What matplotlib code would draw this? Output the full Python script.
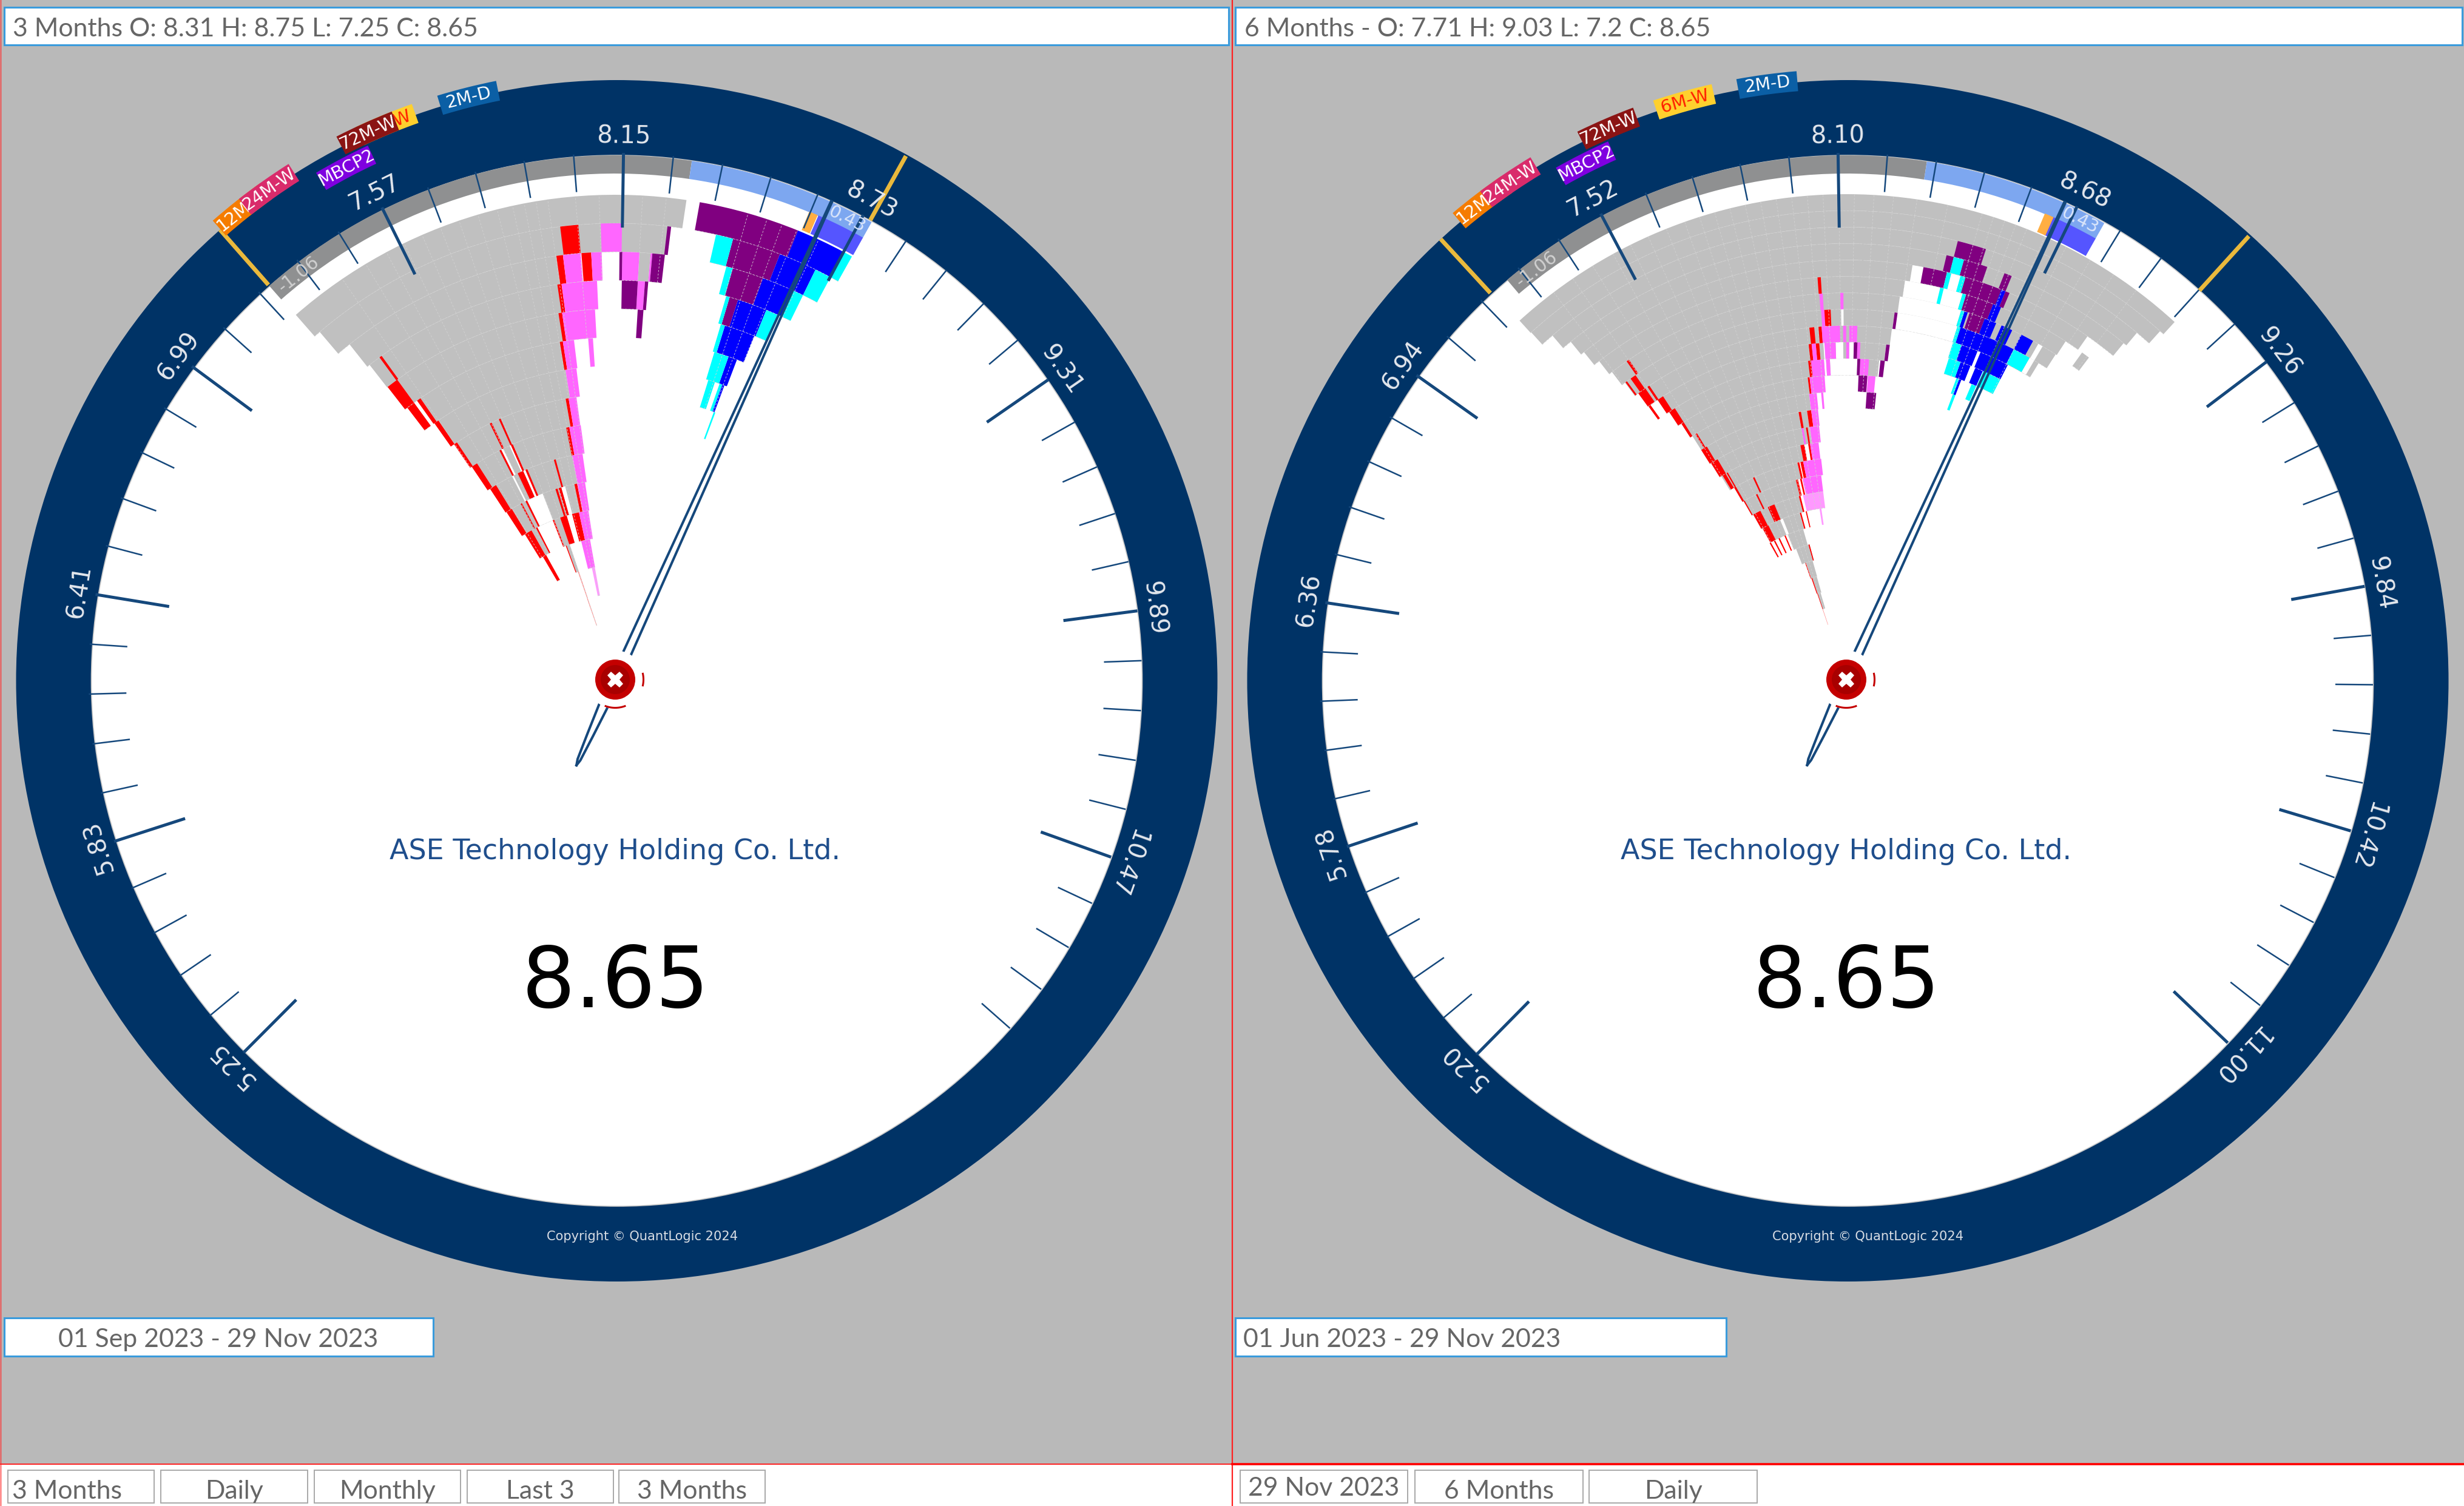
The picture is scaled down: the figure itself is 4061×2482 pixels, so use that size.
import numpy as np
import matplotlib
matplotlib.use("Agg")
from matplotlib import pyplot as plt
from matplotlib.patches import Rectangle, Circle

W, H = 4061, 2482
NAVY = "#003366"
TICK = "#15487c"
TEXT_GREY = "#666666"

# values, fan cells are (row, low price, high price)
L_LABELS = ["5.25", "5.83", "6.41", "6.99", "7.57", "8.15", "8.73", "9.31", "9.89", "10.47"]
R_LABELS = ["5.20", "5.78", "6.36", "6.94", "7.52", "8.10", "8.68", "9.26", "9.84", "10.42", "11.00"]
CLOSE = 8.65
L_LOW, L_OPEN, L_HIGH = 7.25, 8.31, 8.75
R_LOW, R_HIGH = 7.20, 9.03
BAND_LOW, BAND_OPEN, BAND_HIGH = 7.25, 8.31, 8.755
ORANGE_CELL = {"left": (8.611, 8.633), "right": (8.617, 8.640)}

TAG_NAMES = ["12M-W", "24M-W", "6M-W", "72M-W", "MBCP2", "2M-D"]
L_TAG_PRICES = [7.312, 7.38, 7.655, 7.612, 7.54, 7.83]
R_TAG_PRICES = [7.315, 7.386, 7.783, 7.617, 7.543, 7.957]

L_GRAY = [(0, 7.252, 8.311), (1, 7.270, 8.273), (2, 7.312, 7.962), (2, 8.200, 8.232), (3, 7.321, 7.955),
          (4, 7.363, 7.945), (5, 7.391, 7.936), (6, 7.399, 7.936), (7, 7.412, 7.917), (8, 7.436, 7.911),
          (9, 7.459, 7.898), (10, 7.465, 7.879), (11, 7.506, 7.542), (11, 7.685, 7.730), (12, 7.706, 7.734)]
L_WHITE = [(8, 7.568, 7.578), (8, 7.612, 7.619), (9, 7.557, 7.566), (9, 7.623, 7.636),
           (10, 7.572, 7.676), (10, 7.796, 7.821)]
L_RED = [(1, 7.983, 8.032), (2, 7.962, 7.981), (2, 8.034, 8.062), (3, 7.953, 7.966), (3, 7.359, 7.367),
         (4, 7.943, 7.955), (4, 7.323, 7.363), (5, 7.333, 7.363), (5, 7.376, 7.391), (5, 7.932, 7.943),
         (6, 7.380, 7.399), (7, 7.397, 7.412), (7, 7.574, 7.583), (7, 7.617, 7.625), (7, 7.917, 7.930),
         (8, 7.406, 7.436), (8, 7.559, 7.568), (8, 7.619, 7.629), (8, 7.896, 7.911),
         (9, 7.421, 7.459), (9, 7.591, 7.623), (9, 7.636, 7.647), (9, 7.798, 7.808),
         (10, 7.427, 7.465), (10, 7.527, 7.536), (10, 7.561, 7.572), (10, 7.759, 7.772), (10, 7.779, 7.796),
         (10, 7.879, 7.896), (11, 7.451, 7.506), (11, 7.542, 7.553), (11, 7.674, 7.685), (11, 7.730, 7.779),
         (11, 7.819, 7.870), (12, 7.480, 7.512), (12, 7.698, 7.706)]
L_PINK = [(1, 8.092, 8.149), (2, 7.981, 8.032), (2, 8.062, 8.092), (2, 8.151, 8.200), (2, 8.232, 8.237),
          (3, 7.966, 8.075), (3, 8.200, 8.222), (4, 7.955, 8.064), (5, 7.943, 7.983), (5, 8.034, 8.051),
          (6, 7.936, 7.979), (7, 7.930, 7.964), (8, 7.911, 7.966), (9, 7.898, 7.955), (10, 7.896, 7.945),
          (11, 7.870, 7.938), (12, 7.836, 7.913)]
L_LIGHT_PINK = [(13, 7.879, 7.911)]
L_FAINT_RED = [(13, 7.723, 7.734), (14, 7.721, 7.732)]
L_PURPLE = [(0, 8.345, 8.603), (1, 8.271, 8.281), (1, 8.450, 8.582), (2, 8.143, 8.151), (2, 8.237, 8.273),
            (2, 8.471, 8.562), (3, 8.151, 8.200), (3, 8.222, 8.232), (3, 8.486, 8.513), (4, 8.205, 8.224)]
L_BLUE = [(0, 8.603, 8.731), (1, 8.582, 8.686), (2, 8.562, 8.656), (3, 8.513, 8.605), (4, 8.498, 8.601),
          (5, 8.543, 8.575), (6, 8.556, 8.565)]
L_CYAN = [(0, 8.731, 8.754), (1, 8.403, 8.450), (1, 8.686, 8.731), (2, 8.452, 8.471), (2, 8.656, 8.686),
          (3, 8.475, 8.486), (3, 8.605, 8.645), (4, 8.484, 8.498), (5, 8.490, 8.543), (6, 8.499, 8.526),
          (6, 8.545, 8.556), (7, 8.562, 8.569)]
L_GRID = [7.40, 7.47, 7.53, 7.58, 7.63, 7.68, 7.73, 7.78, 7.83, 7.87, 7.90, 7.93, 7.96, 8.03, 8.09, 8.20,
          8.26, 8.47, 8.52, 8.56, 8.60, 8.66]

R_GRAY = [(0, 7.207, 9.037), (1, 7.209, 9.025), (2, 7.246, 8.981), (3, 7.274, 8.971), (4, 7.285, 8.876),
          (5, 7.304, 8.830), (5, 8.891, 8.917), (6, 7.315, 8.826), (7, 7.328, 8.794), (8, 7.343, 8.279),
          (9, 7.386, 8.266), (10, 7.397, 8.246), (11, 7.412, 7.962), (12, 7.423, 7.959), (13, 7.423, 7.940),
          (14, 7.429, 7.942), (15, 7.438, 7.880), (16, 7.466, 7.845), (17, 7.474, 7.813), (18, 7.485, 7.806),
          (19, 7.494, 7.783), (20, 7.645, 7.774), (21, 7.666, 7.791), (22, 7.709, 7.778), (23, 7.720, 7.774),
          (24, 7.720, 7.763)]
R_WHITE = [(4, 8.315, 8.475), (5, 8.300, 8.481), (6, 8.291, 8.492), (6, 8.761, 8.777), (7, 8.281, 8.496),
           (7, 8.759, 8.777), (7, 8.102, 8.110), (9, 8.035, 8.044), (9, 8.080, 8.108), (9, 8.130, 8.147),
           (10, 8.056, 8.162), (10, 8.033, 8.041), (19, 7.634, 7.655)]
R_RED = [(5, 8.031, 8.041), (6, 7.373, 7.382), (7, 7.330, 7.336), (7, 7.351, 7.371), (7, 8.044, 8.067),
         (8, 7.343, 7.373), (8, 7.382, 7.390), (8, 7.990, 8.007), (8, 8.022, 8.033), (9, 7.345, 7.354),
         (9, 7.386, 7.410), (9, 7.981, 7.992), (9, 8.007, 8.020), (10, 7.397, 7.423), (10, 7.972, 7.983),
         (11, 7.412, 7.423), (11, 7.962, 7.970), (12, 7.438, 7.446), (13, 7.423, 7.453), (13, 7.901, 7.912),
         (13, 7.940, 7.959), (14, 7.429, 7.466), (14, 7.923, 7.931), (15, 7.446, 7.464), (15, 7.470, 7.477),
         (15, 7.880, 7.901), (15, 7.921, 7.931), (16, 7.466, 7.477), (16, 7.584, 7.593), (16, 7.845, 7.856),
         (16, 7.862, 7.878), (17, 7.474, 7.481), (17, 7.558, 7.567), (17, 7.813, 7.826), (17, 7.839, 7.849),
         (18, 7.485, 7.537), (18, 7.591, 7.638), (18, 7.806, 7.817), (19, 7.494, 7.541), (19, 7.783, 7.793),
         (19, 7.826, 7.834), (20, 7.487, 7.498), (20, 7.524, 7.535), (20, 7.565, 7.576), (20, 7.617, 7.627),
         (21, 7.781, 7.791), (22, 7.699, 7.707), (23, 7.709, 7.720), (24, 7.716, 7.724)]
R_PINK = [(6, 8.033, 8.044), (6, 8.100, 8.110), (7, 8.035, 8.046), (8, 8.033, 8.097), (8, 8.108, 8.119),
          (8, 8.130, 8.158), (9, 7.992, 8.007), (9, 8.039, 8.080), (9, 8.119, 8.130), (9, 8.160, 8.171),
          (10, 7.983, 8.033), (10, 8.041, 8.056), (10, 8.173, 8.207), (11, 7.970, 8.031), (11, 8.207, 8.238),
          (12, 7.959, 7.992), (12, 8.011, 8.020), (13, 7.959, 7.990), (14, 7.901, 7.910), (14, 7.942, 7.987),
          (15, 7.931, 7.975), (16, 7.878, 7.979), (17, 7.854, 7.968)]
R_LIGHT_PINK = [(18, 7.834, 7.968), (19, 7.927, 7.940)]
R_FAINT_RED = [(25, 7.716, 7.724)]
R_PURPLE = [(2, 8.427, 8.507), (3, 8.406, 8.427), (3, 8.457, 8.526), (3, 8.578, 8.600), (4, 8.348, 8.419),
            (4, 8.475, 8.587), (4, 8.600, 8.613), (5, 8.492, 8.580), (6, 8.520, 8.572), (7, 8.281, 8.291),
            (9, 8.147, 8.160), (9, 8.266, 8.279), (10, 8.162, 8.173), (10, 8.251, 8.268), (11, 8.169, 8.205),
            (12, 8.207, 8.248)]
R_BLUE = [(4, 8.587, 8.600), (5, 8.580, 8.606), (6, 8.503, 8.514), (6, 8.572, 8.611), (6, 8.630, 8.667),
          (6, 8.699, 8.742), (7, 8.507, 8.699), (8, 8.529, 8.589), (8, 8.600, 8.705), (9, 8.546, 8.585),
          (9, 8.604, 8.634), (10, 8.563, 8.572)]
R_CYAN = [(3, 8.427, 8.457), (4, 8.419, 8.432), (4, 8.460, 8.475), (5, 8.410, 8.421), (5, 8.481, 8.492),
          (6, 8.492, 8.503), (7, 8.496, 8.507), (7, 8.699, 8.759), (8, 8.498, 8.529), (9, 8.501, 8.546),
          (9, 8.636, 8.705), (10, 8.552, 8.563), (10, 8.615, 8.634), (11, 8.561, 8.572)]
R_GRID = [7.32, 7.38, 7.44, 7.50, 7.55, 7.60, 7.65, 7.70, 7.74, 7.78, 7.82, 7.86, 7.90, 7.94, 7.98, 8.02,
          8.06, 8.10, 8.14, 8.19, 8.24, 8.30, 8.38, 8.47, 8.50, 8.53, 8.56, 8.59, 8.64, 8.70, 8.77, 8.84, 8.91]

TAG_STYLE = {"12M-W": ("#f57c00", "white"), "24M-W": ("#d92b6b", "white"), "6M-W": ("#ffd02e", "#ff2000"),
             "72M-W": ("#8b1414", "white"), "MBCP2": ("#7f00e0", "white"), "2M-D": ("#0b5fa5", "white")}


def px(size):
    # sizes below are pixel sizes at dpi 100
    return size * 0.72


def draw_gauge(fig, ax_bg, cx, side, labels, start_deg, major_deg, n_ticks, low, high, tag_prices,
               row_top, row_h, fans, grid, copy_dx):
    cy = 1120
    rmax = 1040

    # the ring sits a touch off the hub in the reference
    ax_bg.add_patch(Circle((cx + 2.5, cy + 2), 990, facecolor=NAVY, edgecolor="none", zorder=2))
    ax_bg.add_patch(Circle((cx + 2.5, cy + 2), 866, facecolor="white", edgecolor="#c8c8c8", linewidth=1.2, zorder=2.1))

    ax = fig.add_axes([(cx - rmax) / W, 1 - (cy + rmax) / H, 2 * rmax / W, 2 * rmax / H],
                      projection="polar", zorder=3)
    ax.set_theta_zero_location("N")
    ax.set_theta_direction(-1)
    ax.set_ylim(0, rmax)
    ax.axis("off")

    first = float(labels[0])
    step = 0.58

    def th(p):
        return np.radians(start_deg + (np.asarray(p) - first) / step * major_deg)

    def band(lo, hi, r0, r1, color, z):
        ax.bar(th(lo), r1 - r0, width=th(hi) - th(lo), bottom=r0, align="edge", color=color, linewidth=0, zorder=z)

    full = 2 * np.pi

    # thin bands above the fan
    band(BAND_LOW, BAND_OPEN, 834, 864, "#8f9091", 2)
    band(BAND_OPEN, BAND_HIGH, 834, 864, "#7da7f0", 2)
    band(BAND_HIGH - 0.12, BAND_HIGH, 802, 835, "#5555ff", 2)
    band(ORANGE_CELL[side][0], ORANGE_CELL[side][1], 802, 835, "#ffae42", 2)

    # fan of cells, one row per period, grey first so white and colour go over its grid
    for n, (cells, color) in enumerate(fans):
        z = 2.2 if n == 0 else 2.4
        if color == "white":
            z = 2.3
        for row, lo, hi in cells:
            band(lo, hi, row_top - row_h * (row + 1), row_top - row_h * row, color, z)
    for n, (cells, color) in enumerate(fans):
        if color == "white":
            continue
        z = 2.25 if n == 0 else 2.45
        for row, lo, hi in cells:
            r1 = row_top - row_h * row
            r0 = r1 - row_h
            for g in grid:
                if lo < g < hi:
                    ax.plot([th(g), th(g)], [r0, r1], color="#d2d2d2", lw=0.6, ls=(0, (4, 3)), zorder=z)
            if hi - lo > 0.02:
                a = np.linspace(th(lo), th(hi), 30)
                ax.plot(a, [r0] * 30, color="#d2d2d2", lw=0.6, ls=(0, (4, 3)), zorder=z)

    # ticks
    for k in range(n_ticks):
        p = first + step / 5 * k
        major = k % 5 == 0
        ax.plot([th(p), th(p)], [745 if major else 806, 868], color=TICK, lw=3.6 if major else 1.8,
                solid_capstyle="butt", zorder=3)
    for i, lab in enumerate(labels):
        a = start_deg + i * major_deg
        ax.text(np.radians(a), 895, lab, color="#e4e8ee", fontsize=px(40), rotation=-a, rotation_mode="anchor",
                ha="center", va="center", zorder=6)

    # gold low and high markers across the ring
    for p in (low, high):
        ax.plot([th(p), th(p)], [866, 987], color="#eab93c", lw=5, solid_capstyle="butt", zorder=3)

    # band values
    a = np.degrees(th(7.32))
    ax.text(np.radians(a), 847, "-1.06", color="#d0d0d0", fontsize=px(30), rotation=-a, rotation_mode="anchor",
            ha="center", va="center", zorder=6)
    a = np.degrees(th(8.70))
    ax.text(np.radians(a), 849, "0.43", color="#dbe6fb", fontsize=px(29), rotation=-a, rotation_mode="anchor",
            ha="center", va="center", zorder=6)

    # tags on the outer edge
    for name, p in zip(TAG_NAMES, tag_prices):
        fc, tc = TAG_STYLE[name]
        r0 = 937 if name == "MBCP2" else 973
        a = np.degrees(th(p))
        w = np.radians(5.7)
        ax.bar(np.radians(a), 33, width=w, bottom=r0, color=fc, linewidth=0, zorder=4)
        ax.text(np.radians(a), r0 + 16, name, color=tc, fontsize=px(29), rotation=-a, rotation_mode="anchor",
                ha="center", va="center", zorder=4)

    # needle, a long thin outline with the tail behind the hub
    a0 = th(CLOSE)
    for sign in (-1, 1):
        s = np.array([-155.0, -145.0, -100.0, -45.0, 865.0])
        w = np.array([0.0, 2.5, 5.0, 7.5, 1.0]) * sign
        ax.plot(a0 + np.arctan2(w, s), np.hypot(s, w), color=TICK, lw=2.9, zorder=5)

    # hub
    ax.bar(0, 48, width=full, bottom=0, color="white", linewidth=0, zorder=5.1)
    ax.bar(0, 33, width=full, bottom=0, color="#c40000", linewidth=0, zorder=5.2)
    ax.bar(0, 24, width=full, bottom=0, color="#a80000", linewidth=0, zorder=5.3)
    ax.plot([0], [0], marker="X", ms=px(27), color="white", mew=0, zorder=5.4)
    for d0, d1 in ((78, 102), (160, 200)):
        t = np.radians(np.linspace(d0, d1, 20))
        ax.plot(t, [46.5] * 20, color="#c40000", lw=2.2, zorder=5.2)

    ax.text(cx, 1403, "ASE Technology Holding Co. Ltd.", transform=ax_bg.transData, color="#1f4e8c",
            fontsize=px(46), ha="center", va="center", zorder=6)
    ax.text(cx, 1621, "8.65", transform=ax_bg.transData, color="black", fontsize=px(139), ha="center",
            va="center", zorder=6)
    ax.text(cx + copy_dx, 2038, "Copyright © QuantLogic 2024", transform=ax_bg.transData, color="#d8dde4",
            fontsize=px(21), ha="center", va="center", zorder=6)
    return ax


fig = plt.figure(figsize=(W / 100, H / 100), dpi=100, facecolor="#b9b9b9")
ax_bg = fig.add_axes([0, 0, 1, 1], zorder=1)
ax_bg.set_xlim(0, W)
ax_bg.set_ylim(H, 0)
ax_bg.axis("off")


def box(x0, y0, x1, y1, edge="#3a9bdc", lw=2.2):
    ax_bg.add_patch(Rectangle((x0, y0), x1 - x0, y1 - y0, facecolor="white", edgecolor=edge, linewidth=lw))


def label(x, y, s, ha="left", size=42.7):
    ax_bg.text(x, y, s, family="Lato", color=TEXT_GREY, fontsize=px(size), ha=ha, va="baseline")


# bottom strip and panel dividers
ax_bg.add_patch(Rectangle((0, 2413), W, H - 2413, facecolor="white", edgecolor="none"))
ax_bg.plot([1, 1], [0, H], color="#ff3030", lw=1)
ax_bg.plot([2031, 2031], [0, H], color="#ff2020", lw=1.6)
ax_bg.plot([0, 2031], [2413, 2413], color="#ff2020", lw=1.4)
ax_bg.plot([2031, W], [2413, 2413], color="#ff0000", lw=2.6)

box(7, 12, 2025, 74)
box(2036, 12, W - 3, 74)
label(21, 60, "3 Months O: 8.31 H: 8.75 L: 7.25 C: 8.65")
label(2051, 60, "6 Months - O: 7.71 H: 9.03 L: 7.2 C: 8.65")

box(7, 2172, 714, 2235)
box(2036, 2172, 2845, 2235)
label(96, 2220, "01 Sep 2023 - 29 Nov 2023")
label(2049, 2220, "01 Jun 2023 - 29 Nov 2023")

L_TABS = ["3 Months", "Daily", "Monthly", "Last 3", "3 Months"]
L_TAB_X = [(13, 254), (265, 507), (518, 759), (770, 1011), (1020, 1261)]
R_TABS = ["29 Nov 2023", "6 Months", "Daily"]
R_TAB_X = [(2044, 2320), (2332, 2609), (2619, 2896)]
for i, (s, (x0, x1)) in enumerate(zip(L_TABS, L_TAB_X)):
    box(x0, 2423, x1, 2477, edge="#a8a8a8", lw=1.4)
    if i == 0:
        label(20, 2470, s)
    else:
        label((x0 + x1) / 2, 2470, s, ha="center")
for s, (x0, x1) in zip(R_TABS, R_TAB_X):
    box(x0, 2423, x1, 2477, edge="#a8a8a8", lw=1.4)
    label((x0 + x1) / 2, 2465 if s.startswith("29") else 2470, s, ha="center")

L_FANS = [(L_GRAY, "#c0c0c0"), (L_WHITE, "white"), (L_RED, "#ff0000"), (L_PINK, "#ff66ff"),
          (L_LIGHT_PINK, "#ff99ff"), (L_FAINT_RED, "#ff9090"), (L_PURPLE, "#800080"),
          (L_BLUE, "#0000ff"), (L_CYAN, "#00ffff")]
R_FANS = [(R_GRAY, "#c0c0c0"), (R_WHITE, "white"), (R_RED, "#ff0000"), (R_PINK, "#ff66ff"),
          (R_LIGHT_PINK, "#ff99ff"), (R_FAINT_RED, "#ff9090"), (R_PURPLE, "#800080"),
          (R_BLUE, "#0000ff"), (R_CYAN, "#00ffff")]

draw_gauge(fig, ax_bg, 1014, "left", L_LABELS, -135.1, 27.2, 50, L_LOW, L_HIGH, L_TAG_PRICES, 799, 47,
           L_FANS, L_GRID, 45)
draw_gauge(fig, ax_bg, 3043, "right", R_LABELS, -135.4, 26.9, 51, R_LOW, R_HIGH, R_TAG_PRICES, 800, 27.1,
           R_FANS, R_GRID, 36)

fig.savefig("out.png", dpi=100, facecolor=fig.get_facecolor())
